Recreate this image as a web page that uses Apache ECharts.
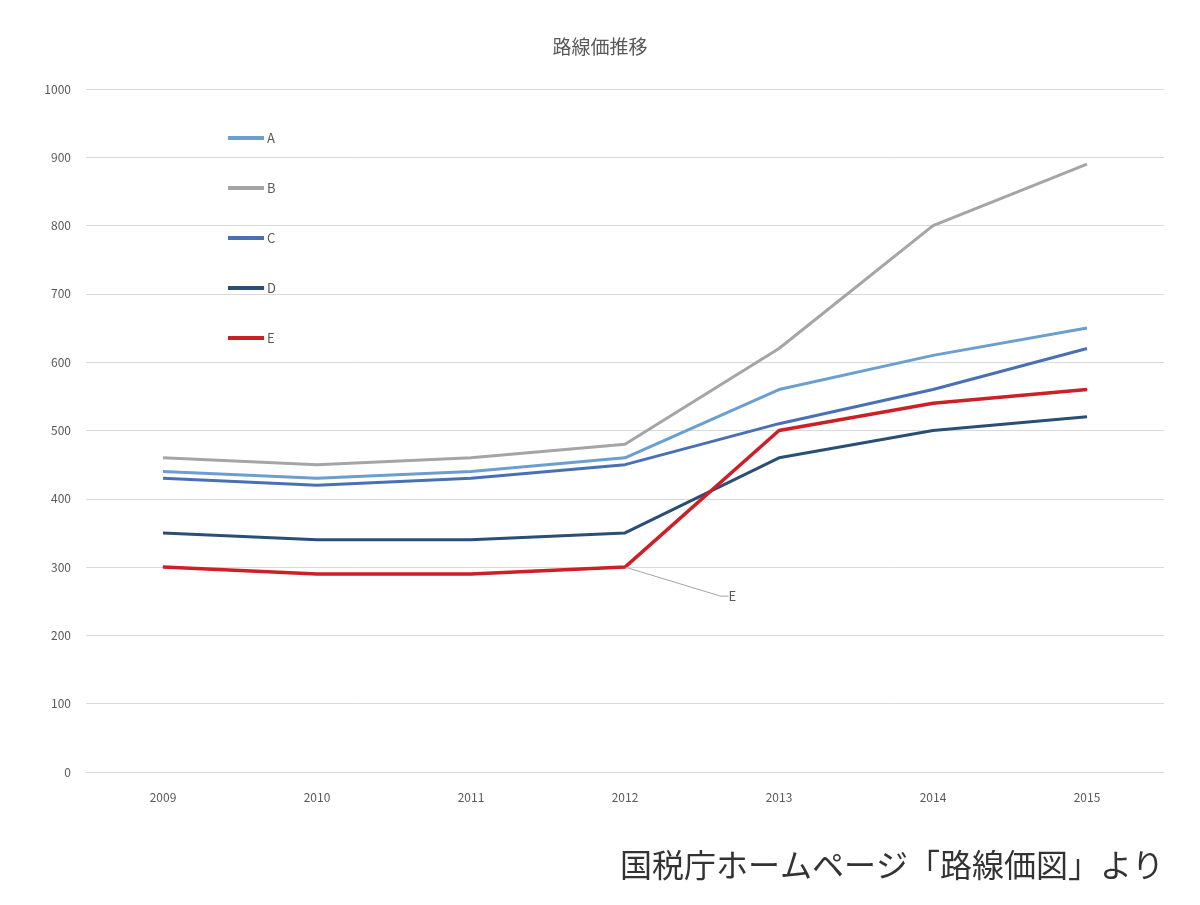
<!DOCTYPE html>
<html>
<head>
<meta charset="utf-8">
<script src="https://cdn.jsdelivr.net/npm/echarts@6/dist/echarts.min.js"></script>
<style>
  html, body { margin: 0; padding: 0; background: #fff; }
  #chart { width: 1200px; height: 905px; }
</style>
</head>
<body>
<div id="chart"></div>
<script>
const years = ['2009', '2010', '2011', '2012', '2013', '2014', '2015']
const seriesNames = ['A', 'B', 'C', 'D', 'E']
const valuesA = [440, 430, 440, 460, 560, 610, 650]
const valuesB = [460, 450, 460, 480, 620, 800, 890]
const valuesC = [430, 420, 430, 450, 510, 560, 620]
const valuesD = [350, 340, 340, 350, 460, 500, 520]
const valuesE = [300, 290, 290, 300, 500, 540, 560]
const colors = ['#6a9fcf', '#a5a5a5', '#4a70b4', '#2a4f75', '#cc1f26']
const labelIndexE = 3

const font = '"Noto Sans CJK JP", "Noto Sans", sans-serif'

function makeSeries(name, values, color, width) {
  return {
    name: name,
    type: 'line',
    data: values,
    symbol: 'none',
    lineStyle: { color: color, width: width },
    itemStyle: { color: color },
    emphasis: { disabled: true }
  }
}

// E gets a callout label on the 2012 point
const seriesE = makeSeries('E', valuesE.map(function (v, i) {
  if (i !== labelIndexE) return v
  return {
    value: v,
    label: {
      show: true,
      formatter: 'E',
      position: 'right',
      color: '#595959',
      fontSize: 13,
      fontFamily: font
    },
    labelLine: {
      show: true,
      length2: 8,
      lineStyle: { color: '#a6a6a6', width: 1 }
    }
  }
}), colors[4], 3.5)
seriesE.symbol = 'circle'
seriesE.symbolSize = 1
seriesE.showSymbol = true
seriesE.labelLayout = { dx: 98, dy: 29 }

const option = {
  animation: false,
  backgroundColor: '#fff',
  textStyle: { fontFamily: font },
  title: [
    {
      text: '路線価推移',
      left: 'center',
      top: 32,
      textStyle: { color: '#595959', fontSize: 19, fontWeight: 'normal', fontFamily: font }
    },
    {
      text: '国税庁ホームページ「路線価図」より',
      right: 31,
      top: 844,
      textStyle: { color: '#333', fontSize: 32, fontWeight: 'normal', fontFamily: font }
    }
  ],
  legend: {
    data: seriesNames,
    orient: 'vertical',
    left: 223,
    top: 126,
    icon: 'rect',
    itemWidth: 36,
    itemHeight: 4,
    itemGap: 36,
    textStyle: { color: '#595959', fontSize: 13, lineHeight: 14, padding: [0, 0, 0, -2] }
  },
  grid: { left: 86, right: 36, top: 89, bottom: 133 },
  xAxis: {
    type: 'category',
    data: years,
    axisLine: { lineStyle: { color: '#d9d9d9', width: 1 } },
    axisTick: { show: false },
    axisLabel: { color: '#595959', fontSize: 12, margin: 19 }
  },
  yAxis: {
    type: 'value',
    min: 0,
    max: 1000,
    interval: 100,
    axisLine: { show: false },
    axisTick: { show: false },
    splitLine: { lineStyle: { color: '#d9d9d9', width: 1 } },
    axisLabel: {
      color: '#595959',
      fontSize: 12,
      margin: 15,
      formatter: function (v) { return String(v) }
    }
  },
  series: [
    makeSeries('A', valuesA, colors[0], 3),
    makeSeries('B', valuesB, colors[1], 3),
    makeSeries('C', valuesC, colors[2], 3),
    makeSeries('D', valuesD, colors[3], 3),
    seriesE
  ]
}

const chart = echarts.init(document.getElementById('chart'))
chart.setOption(option)
</script>
</body>
</html>
